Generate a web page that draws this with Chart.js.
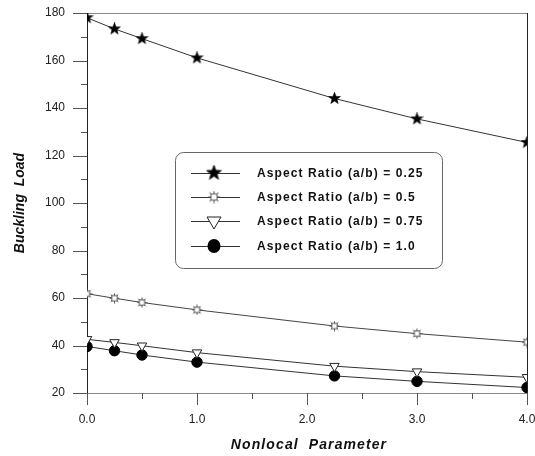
<!DOCTYPE html>
<html>
<head>
<meta charset="utf-8">
<script src="https://cdn.jsdelivr.net/npm/chart.js@4.4.1/dist/chart.umd.min.js"></script>
<style>
  html, body { margin: 0; padding: 0; background: #ffffff; }
  #wrap { width: 535px; height: 456px; }
</style>
</head>
<body>
<div id="wrap"><canvas id="c" width="535" height="456"></canvas></div>
<script>
// ---- data ----
const nonlocalParameter = [0, 0.25, 0.5, 1.0, 2.25, 3.0, 4.0];
const ratio025 = [178.0, 173.3, 169.2, 161.1, 144.0, 135.4, 125.5];
const ratio05  = [61.8, 59.9, 58.1, 55.0, 48.2, 45.0, 41.4];
const ratio075 = [42.6, 41.3, 39.9, 37.0, 31.3, 29.0, 26.6];
const ratio10  = [39.6, 37.8, 36.0, 33.0, 27.2, 24.9, 22.3];
const seriesLabels = [
  'Aspect Ratio (a/b) = 0.25',
  'Aspect Ratio (a/b) = 0.5',
  'Aspect Ratio (a/b) = 0.75',
  'Aspect Ratio (a/b) = 1.0'
];
const xTicks = [0, 1, 2, 3, 4];
const yTicks = [20, 40, 60, 80, 100, 120, 140, 160, 180];

// ---- custom marker images ----
function starImage(size, outerR, innerR) {
  const c = document.createElement('canvas');
  c.width = size; c.height = size;
  const g = c.getContext('2d');
  const cx = size / 2, cy = size / 2;
  g.beginPath();
  for (let i = 0; i < 10; i++) {
    const r = i % 2 === 0 ? outerR : innerR;
    const a = -Math.PI / 2 + i * Math.PI / 5;
    const px = cx + r * Math.cos(a), py = cy + r * Math.sin(a);
    if (i === 0) g.moveTo(px, py); else g.lineTo(px, py);
  }
  g.closePath();
  g.fillStyle = '#000';
  g.fill();
  g.strokeStyle = '#000';
  g.lineWidth = 0.6;
  g.stroke();
  return c;
}
function asteriskBoxImage(size) {
  const c = document.createElement('canvas');
  c.width = size; c.height = size;
  const g = c.getContext('2d');
  const m = size / 2;
  const r = size / 2 - 0.5;
  g.strokeStyle = '#555';
  g.lineWidth = 1;
  g.beginPath();
  g.moveTo(m - r, m); g.lineTo(m + r, m);
  g.moveTo(m, m - r); g.lineTo(m, m + r);
  const d = r * 0.75;
  g.moveTo(m - d, m - d); g.lineTo(m + d, m + d);
  g.moveTo(m - d, m + d); g.lineTo(m + d, m - d);
  g.stroke();
  const b = size * 0.24;
  g.fillStyle = '#fff';
  g.fillRect(m - b, m - b, 2 * b, 2 * b);
  g.strokeRect(m - b, m - b, 2 * b, 2 * b);
  return c;
}
const starPt = starImage(13, 6.2, 2.6);
const starLeg = starImage(17, 8, 3.3);
const astPt = asteriskBoxImage(11);
const astLeg = asteriskBoxImage(13);

function pts(ys) { return nonlocalParameter.map((x, i) => ({ x: x, y: ys[i] })); }

const datasets = [
  { label: seriesLabels[0], data: pts(ratio025), pointStyle: starPt,
    borderColor: '#333', backgroundColor: '#000', legendStyle: starLeg },
  { label: seriesLabels[1], data: pts(ratio05), pointStyle: astPt,
    borderColor: '#444', backgroundColor: '#555', legendStyle: astLeg },
  { label: seriesLabels[2], data: pts(ratio075), pointStyle: 'triangle', rotation: 180,
    pointRadius: 5.5, pointBorderColor: '#222', pointBackgroundColor: '#fff', pointBorderWidth: 1,
    borderColor: '#333', backgroundColor: '#fff', legendStyle: 'triangle' },
  { label: seriesLabels[3], data: pts(ratio10), pointStyle: 'circle',
    pointRadius: 5.2, pointBorderColor: '#000', pointBackgroundColor: '#000',
    borderColor: '#333', backgroundColor: '#000', legendStyle: 'circle' }
].map(d => Object.assign({ borderWidth: 1, pointRadius: 6, fill: false, tension: 0 }, d));

// ---- frame, tick marks, x title, boxed legend ----
const framePlugin = {
  id: 'framePlugin',
  beforeDatasetsDraw(chart) {
    const ctx = chart.ctx;
    const xs = chart.scales.x, ys = chart.scales.y;
    const L = xs.getPixelForValue(0), R = xs.getPixelForValue(4);
    const T = ys.getPixelForValue(180), B = ys.getPixelForValue(20);
    ctx.save();
    ctx.lineWidth = 1;
    ctx.strokeStyle = '#8a8a8a';
    ctx.beginPath();
    ctx.moveTo(L - 14, Math.round(T) + 0.5); ctx.lineTo(R, Math.round(T) + 0.5);
    ctx.moveTo(L - 14, Math.round(B) + 0.5); ctx.lineTo(R, Math.round(B) + 0.5);
    ctx.stroke();
    ctx.strokeStyle = '#222';
    ctx.beginPath();
    ctx.moveTo(Math.round(L) + 0.5, T); ctx.lineTo(Math.round(L) + 0.5, B + 12);
    ctx.moveTo(Math.round(R) + 0.5, T); ctx.lineTo(Math.round(R) + 0.5, B + 12);
    ctx.stroke();
    ctx.strokeStyle = '#555';
    ctx.beginPath();
    for (let v = 20; v <= 180; v += 10) {
      const y = Math.round(ys.getPixelForValue(v)) + 0.5;
      const len = (v % 20 === 0) ? 14 : 6;
      ctx.moveTo(L - len, y); ctx.lineTo(L, y);
    }
    for (let v = 0; v <= 4; v += 0.5) {
      const x = Math.round(xs.getPixelForValue(v)) + 0.5;
      const len = (v % 1 === 0) ? 12 : 6;
      ctx.moveTo(x, B); ctx.lineTo(x, B + len);
    }
    ctx.stroke();
    ctx.restore();
  },
  afterDraw(chart) {
    const ctx = chart.ctx;
    const xs = chart.scales.x;
    const L = xs.getPixelForValue(0), R = xs.getPixelForValue(4);
    ctx.save();
    ctx.fillStyle = '#111';
    ctx.font = 'italic bold 14px "Liberation Sans", Arial, sans-serif';
    ctx.letterSpacing = '1.1px';
    ctx.textAlign = 'center';
    ctx.textBaseline = 'middle';
    ctx.fillText('Nonlocal  Parameter', (L + R) / 2 + 2, 445);
    const bx = 175.5, by = 152.5, bw = 267, bh = 116, r = 8;
    ctx.letterSpacing = '0px';
    ctx.strokeStyle = '#666';
    ctx.lineWidth = 1;
    ctx.fillStyle = '#fff';
    ctx.beginPath();
    ctx.roundRect(bx, by, bw, bh, r);
    ctx.fill();
    ctx.stroke();
    const rowY = [173, 197, 221, 246];
    chart.data.datasets.forEach((ds, i) => {
      const y = rowY[i];
      ctx.strokeStyle = '#333';
      ctx.lineWidth = 1;
      ctx.beginPath();
      ctx.moveTo(191, y + 0.5); ctx.lineTo(240, y + 0.5);
      ctx.stroke();
      const mx = 214;
      if (ds.legendStyle === 'triangle') {
        ctx.fillStyle = '#fff'; ctx.strokeStyle = '#222';
        ctx.beginPath();
        ctx.moveTo(mx - 7, y - 4); ctx.lineTo(mx + 7, y - 4); ctx.lineTo(mx, y + 8);
        ctx.closePath(); ctx.fill(); ctx.stroke();
      } else if (ds.legendStyle === 'circle') {
        ctx.fillStyle = '#000';
        ctx.beginPath();
        ctx.ellipse(mx, y, 6.5, 7, 0, 0, Math.PI * 2);
        ctx.fill();
      } else {
        const img = ds.legendStyle;
        ctx.drawImage(img, mx - img.width / 2, y - img.height / 2);
      }
      ctx.fillStyle = '#111';
      ctx.font = 'bold 12px "Liberation Sans", Arial, sans-serif';
      ctx.letterSpacing = '1.1px';
      ctx.textAlign = 'left';
      ctx.textBaseline = 'middle';
      ctx.fillText(ds.label, 257, y + 1);
      ctx.letterSpacing = '0px';
    });
    ctx.restore();
  }
};

new Chart(document.getElementById('c'), {
  type: 'line',
  data: { datasets: datasets },
  plugins: [framePlugin],
  options: {
    responsive: false,
    animation: false,
    layout: { padding: { top: 13, right: 8, left: 0, bottom: 0 } },
    plugins: { legend: { display: false }, tooltip: { enabled: false } },
    scales: {
      x: {
        type: 'linear', min: 0, max: 4,
        afterBuildTicks: s => { s.ticks = xTicks.map(v => ({ value: v })); },
        afterFit: s => { s.height = 63; s.paddingLeft = 0; s.paddingRight = 0; s.paddingTop = 0; s.paddingBottom = 0; },
        grid: { display: false, drawTicks: false },
        border: { display: false },
        ticks: {
          padding: 19, color: '#222', maxRotation: 0,
          font: { family: '"Liberation Sans", Arial, sans-serif', size: 12 },
          callback: v => Number(v).toFixed(1)
        },
        title: { display: false }
      },
      y: {
        type: 'linear', min: 20, max: 180,
        afterBuildTicks: s => { s.ticks = yTicks.map(v => ({ value: v })); },
        afterFit: s => { s.width = 87; s.paddingTop = 0; s.paddingBottom = 0; s.paddingLeft = 0; s.paddingRight = 0; },
        grid: { display: false, drawTicks: false },
        border: { display: false },
        ticks: {
          padding: 22, color: '#222',
          font: { family: '"Liberation Sans", Arial, sans-serif', size: 12 },
          callback: v => String(v)
        },
        title: {
          display: true, text: 'Buckling  Load', color: '#111',
          font: { family: '"Liberation Sans", Arial, sans-serif', size: 14, weight: 'bold', style: 'italic' },
          padding: { top: 12, bottom: 0 }
        }
      }
    }
  }
});
</script>
</body>
</html>
